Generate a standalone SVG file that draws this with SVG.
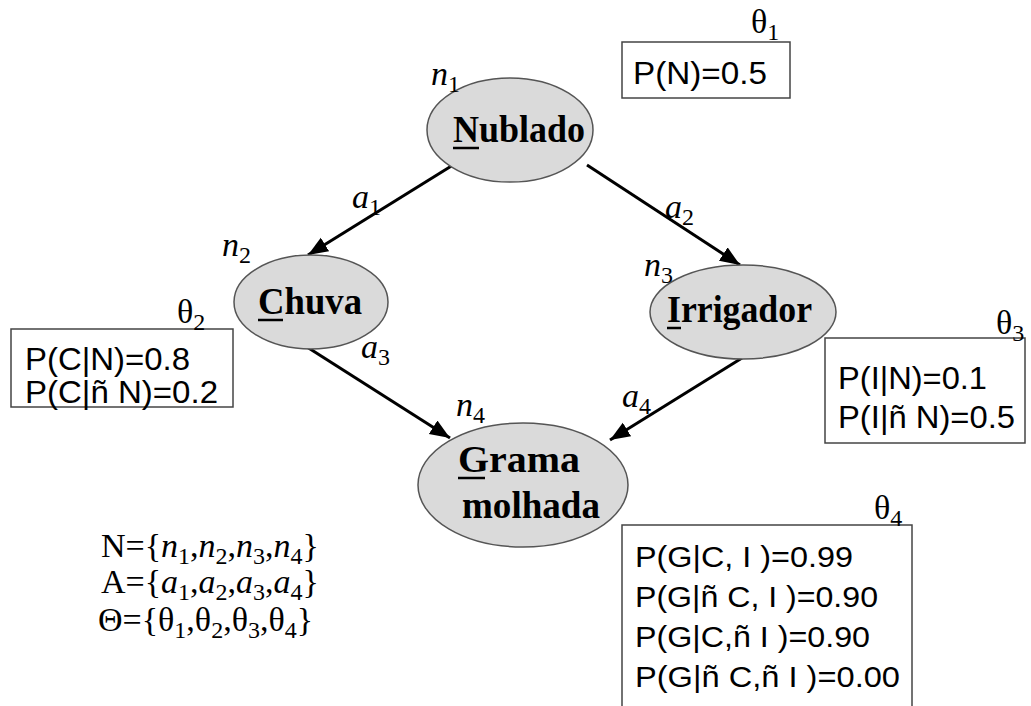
<svg xmlns="http://www.w3.org/2000/svg" width="1031" height="706" viewBox="0 0 1031 706">
<style>
.node ellipse{fill:#dadada;stroke:#555;stroke-width:1.5}
.lbl{font-family:"Liberation Serif",serif;font-weight:bold;font-size:38px;fill:#000}
.it{font-family:"Liberation Serif",serif;font-style:italic;font-size:34px;fill:#000}
.sub{font-family:"Liberation Serif",serif;font-style:normal;font-size:24px}
.th{font-family:"Liberation Serif",serif;font-size:34px;fill:#000}
.box rect{fill:#fff;stroke:#444;stroke-width:1.5}
.pt{font-family:"Liberation Sans",sans-serif;font-size:32px;fill:#000}
.pt4{font-family:"Liberation Sans",sans-serif;font-size:30px;fill:#000}
.eq{font-family:"Liberation Serif",serif;font-size:34px;fill:#000}
.edge{stroke:#000;stroke-width:3;fill:none;marker-end:url(#ah)}
</style>
<defs>
<marker id="ah" markerUnits="userSpaceOnUse" markerWidth="22" markerHeight="18" refX="20" refY="8" orient="auto">
<path d="M0,0 L20,8 L0,16 Z" fill="#000"/>
</marker>
</defs>
<rect width="1031" height="706" fill="#fff"/>

<g id="connectors">
<line class="edge" x1="453" y1="165" x2="308" y2="255"/>
<line class="edge" x1="587" y1="165" x2="740" y2="265"/>
<line class="edge" x1="307" y1="347" x2="450" y2="438"/>
<line class="edge" x1="742" y1="358" x2="610" y2="440"/>
<text class="it" x="352" y="208">a<tspan class="sub" dy="7">1</tspan></text>
<text class="it" x="665" y="218">a<tspan class="sub" dy="7">2</tspan></text>
<text class="it" x="361" y="358">a<tspan class="sub" dy="7">3</tspan></text>
<text class="it" x="622" y="407">a<tspan class="sub" dy="7">4</tspan></text>
</g>

<g id="n1" class="node">
<ellipse cx="510" cy="130" rx="83" ry="52"/>
<text class="lbl" x="453" y="142" textLength="132" lengthAdjust="spacingAndGlyphs">Nublado</text>
<line x1="453" y1="148" x2="479" y2="148" stroke="#000" stroke-width="2.5"/>
<text class="it" x="431" y="85">n<tspan class="sub" dy="7">1</tspan></text>
</g>

<g id="n2" class="node">
<ellipse cx="311" cy="302" rx="77" ry="47"/>
<text class="lbl" x="258" y="314" textLength="104" lengthAdjust="spacingAndGlyphs">Chuva</text>
<line x1="258" y1="320" x2="283" y2="320" stroke="#000" stroke-width="2.5"/>
<text class="it" x="222" y="256">n<tspan class="sub" dy="7">2</tspan></text>
</g>

<g id="n3" class="node">
<ellipse cx="743" cy="312" rx="93" ry="47"/>
<text class="lbl" x="667" y="322" textLength="145" lengthAdjust="spacingAndGlyphs">Irrigador</text>
<line x1="667" y1="328" x2="681" y2="328" stroke="#000" stroke-width="2.5"/>
<text class="it" x="644" y="276">n<tspan class="sub" dy="7">3</tspan></text>
</g>

<g id="n4" class="node">
<ellipse cx="523" cy="485" rx="105" ry="62"/>
<text class="lbl" x="458" y="472" textLength="122" lengthAdjust="spacingAndGlyphs">Grama</text>
<text class="lbl" x="462" y="518" textLength="138" lengthAdjust="spacingAndGlyphs">molhada</text>
<line x1="458" y1="478" x2="485" y2="478" stroke="#000" stroke-width="2.5"/>
<text class="it" x="456" y="416">n<tspan class="sub" dy="7">4</tspan></text>
</g>

<g id="theta1" class="box">
<rect x="622" y="42" width="168" height="56"/>
<text class="pt" x="633" y="84" textLength="134" lengthAdjust="spacingAndGlyphs">P(N)=0.5</text>
<text class="th" x="751" y="33">θ<tspan class="sub" dy="7">1</tspan></text>
</g>

<g id="theta2" class="box">
<rect x="11" y="329" width="222" height="78"/>
<text class="pt" x="25" y="370" textLength="165" lengthAdjust="spacingAndGlyphs">P(C|N)=0.8</text>
<text class="pt" x="25" y="403" textLength="193" lengthAdjust="spacingAndGlyphs">P(C|ñ N)=0.2</text>
<text class="th" x="177" y="323">θ<tspan class="sub" dy="7">2</tspan></text>
</g>

<g id="theta3" class="box">
<rect x="825" y="338" width="200" height="105"/>
<text class="pt" x="838" y="389" textLength="149" lengthAdjust="spacingAndGlyphs">P(I|N)=0.1</text>
<text class="pt" x="838" y="428" textLength="177" lengthAdjust="spacingAndGlyphs">P(I|ñ N)=0.5</text>
<text class="th" x="996" y="334">θ<tspan class="sub" dy="7">3</tspan></text>
</g>

<g id="theta4" class="box">
<rect x="622" y="525" width="290" height="190"/>
<text class="pt4" x="635" y="567" textLength="218" lengthAdjust="spacingAndGlyphs">P(G|C, I )=0.99</text>
<text class="pt4" x="635" y="607" textLength="243" lengthAdjust="spacingAndGlyphs">P(G|ñ C, I )=0.90</text>
<text class="pt4" x="635" y="647" textLength="235" lengthAdjust="spacingAndGlyphs">P(G|C,ñ I )=0.90</text>
<text class="pt4" x="635" y="687" textLength="265" lengthAdjust="spacingAndGlyphs">P(G|ñ C,ñ I )=0.00</text>
<text class="th" x="874" y="519">θ<tspan class="sub" dy="7">4</tspan></text>
</g>

<g id="sets">
<text class="eq" x="101" y="557">N={<tspan font-style="italic">n</tspan><tspan class="sub" dy="7">1</tspan><tspan dy="-7">,</tspan><tspan font-style="italic">n</tspan><tspan class="sub" dy="7">2</tspan><tspan dy="-7">,</tspan><tspan font-style="italic">n</tspan><tspan class="sub" dy="7">3</tspan><tspan dy="-7">,</tspan><tspan font-style="italic">n</tspan><tspan class="sub" dy="7">4</tspan><tspan dy="-7">}</tspan></text>
<text class="eq" x="101" y="593">A={<tspan font-style="italic">a</tspan><tspan class="sub" dy="7">1</tspan><tspan dy="-7">,</tspan><tspan font-style="italic">a</tspan><tspan class="sub" dy="7">2</tspan><tspan dy="-7">,</tspan><tspan font-style="italic">a</tspan><tspan class="sub" dy="7">3</tspan><tspan dy="-7">,</tspan><tspan font-style="italic">a</tspan><tspan class="sub" dy="7">4</tspan><tspan dy="-7">}</tspan></text>
<text class="eq" x="98" y="631">Θ={θ<tspan class="sub" dy="7">1</tspan><tspan dy="-7">,</tspan>θ<tspan class="sub" dy="7">2</tspan><tspan dy="-7">,</tspan>θ<tspan class="sub" dy="7">3</tspan><tspan dy="-7">,</tspan>θ<tspan class="sub" dy="7">4</tspan><tspan dy="-7">}</tspan></text>
</g>
</svg>
